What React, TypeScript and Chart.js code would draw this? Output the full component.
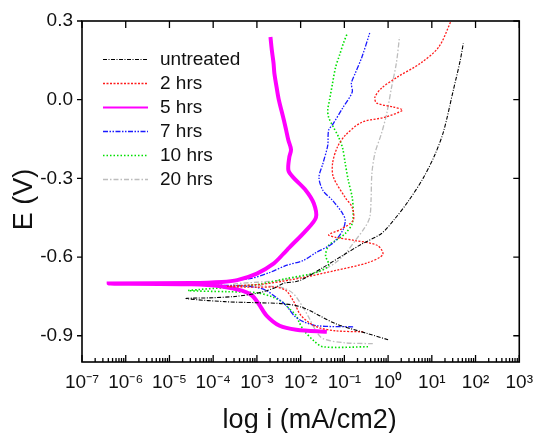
import React, { useEffect, useRef } from "react";
import { Chart, registerables } from "chart.js";

Chart.register(...registerables);

// ---------- data (x stored as log10 of i in mA/cm2, y = E in V) ----------
const seriesLabels = ["untreated", "2 hrs", "5 hrs", "7 hrs", "10 hrs", "20 hrs"];

const untreatedLogI = [0.0, -0.46, -1.2, -1.94, -2.39, -3.0, -3.74, -4.62, -4.0, -3.5, -3.0, -2.6, -2.39, -2.03, -1.49, -1.0, -0.6, -0.15, 0.15, 0.45, 0.8, 1.07, 1.27, 1.49, 1.65, 1.72];
const untreatedE = [-0.915, -0.892, -0.854, -0.793, -0.778, -0.774, -0.77, -0.758, -0.755, -0.75, -0.738, -0.718, -0.7, -0.69, -0.64, -0.59, -0.55, -0.51, -0.455, -0.39, -0.3, -0.21, -0.12, 0.035, 0.15, 0.215];

const hrs2LogI = [-0.57, -1.2, -1.65, -1.99, -2.17, -2.33, -2.55, -3.0, -3.67, -3.0, -2.71, -1.94, -1.2, -0.46, -0.12, -0.24, -0.75, -1.2, -1.36, -1.09, -0.8, -0.82, -0.98, -1.25, -1.27, -1.16, -0.98, -0.6, -0.08, 0.33, 0.15, -0.26, -0.3, -0.15, 0.21, 0.75, 1.16, 1.43];
const hrs2E = [-0.885, -0.881, -0.865, -0.823, -0.766, -0.728, -0.715, -0.715, -0.712, -0.705, -0.7, -0.678, -0.651, -0.621, -0.59, -0.556, -0.537, -0.525, -0.515, -0.495, -0.46, -0.411, -0.373, -0.296, -0.243, -0.181, -0.136, -0.086, -0.067, -0.04, -0.029, -0.013, 0.01, 0.044, 0.086, 0.14, 0.201, 0.296];

const hrs5LogI = [-1.4, -2.1, -2.48, -2.78, -2.96, -3.11, -3.34, -3.8, -4.5, -6.39, -4.5, -3.8, -3.45, -3.0, -2.62, -2.39, -2.26, -1.88, -1.65, -1.7, -1.88, -2.17, -2.28, -2.26, -2.22, -2.28, -2.33, -2.38, -2.44, -2.5, -2.55, -2.6, -2.62, -2.66, -2.69];
const hrs5E = [-0.885, -0.877, -0.862, -0.823, -0.778, -0.747, -0.728, -0.712, -0.704, -0.701, -0.699, -0.695, -0.688, -0.663, -0.625, -0.587, -0.564, -0.499, -0.449, -0.395, -0.346, -0.296, -0.269, -0.22, -0.19, -0.155, -0.117, -0.08, -0.04, 0.0, 0.048, 0.1, 0.14, 0.19, 0.239];

const hrs7LogI = [-0.8, -1.61, -1.94, -2.15, -2.33, -2.55, -2.78, -3.0, -3.45, -4.42, -4.35, -3.16, -2.71, -2.33, -1.94, -1.65, -1.27, -1.04, -0.98, -1.04, -1.27, -1.49, -1.58, -1.49, -1.38, -1.36, -1.25, -1.04, -0.82, -0.84, -0.75, -0.6, -0.42];
const hrs7E = [-0.866, -0.862, -0.846, -0.823, -0.785, -0.755, -0.728, -0.716, -0.709, -0.705, -0.701, -0.682, -0.659, -0.632, -0.613, -0.583, -0.548, -0.499, -0.46, -0.434, -0.384, -0.346, -0.296, -0.243, -0.174, -0.117, -0.09, -0.032, 0.029, 0.063, 0.101, 0.162, 0.254];

const hrs10LogI = [-0.46, -1.49, -1.7, -1.92, -2.03, -2.1, -2.26, -2.39, -2.66, -3.0, -3.67, -4.57, -4.35, -3.0, -2.33, -1.65, -1.36, -1.43, -1.36, -1.2, -0.98, -0.82, -0.8, -0.82, -0.91, -0.98, -1.04, -1.13, -1.25, -1.36, -1.38, -1.34, -1.27, -1.2, -1.11, -1.02, -0.93];
const hrs10E = [-0.942, -0.942, -0.919, -0.881, -0.85, -0.823, -0.797, -0.774, -0.751, -0.736, -0.732, -0.728, -0.724, -0.705, -0.682, -0.659, -0.632, -0.594, -0.556, -0.537, -0.51, -0.472, -0.422, -0.373, -0.308, -0.243, -0.185, -0.143, -0.105, -0.067, -0.04, -0.002, 0.063, 0.124, 0.17, 0.216, 0.254];

const hrs20LogI = [-0.35, -0.98, -1.49, -1.65, -1.81, -1.94, -2.17, -2.44, -3.0, -3.56, -3.45, -2.55, -1.88, -1.43, -1.2, -0.98, -0.75, -0.53, -0.42, -0.39, -0.37, -0.3, -0.15, -0.03, 0.08, 0.19, 0.26];
const hrs20E = [-0.93, -0.927, -0.911, -0.881, -0.831, -0.793, -0.739, -0.716, -0.709, -0.705, -0.701, -0.69, -0.671, -0.644, -0.621, -0.587, -0.537, -0.487, -0.449, -0.384, -0.281, -0.204, -0.128, -0.052, 0.048, 0.14, 0.239];

const xTickValues = [1e-7, 1e-6, 1e-5, 1e-4, 1e-3, 1e-2, 1e-1, 1e0, 1e1, 1e2, 1e3];
const xTickLabels = ["10\u207B\u2077", "10\u207B\u2076", "10\u207B\u2075", "10\u207B\u2074", "10\u207B\u00B3", "10\u207B\u00B2", "10\u207B\u00B9", "10\u2070", "10\u00B9", "10\u00B2", "10\u00B3"];
const yTickValues = [-0.9, -0.6, -0.3, 0.0, 0.3];
const yTickLabels = ["-0.9", "-0.6", "-0.3", "0.0", "0.3"];

const xTitle = "log i (mA/cm2)";
const yTitle = "E (V)";

// ---------- styles ----------
const FONT = "'Liberation Sans', Arial, sans-serif";
const seriesStyles = [
  { color: "#000000", width: 1.1, dash: [4, 1.5, 1, 1.5] },
  { color: "#ff1a1a", width: 1.3, dash: [2, 1.5] },
  { color: "#ff00ff", width: 4, dash: [] },
  { color: "#1a1aff", width: 1.3, dash: [5, 1.5, 1.5, 1.5, 1.5, 1.5] },
  { color: "#00e000", width: 1.6, dash: [1.5, 2] },
  { color: "#bdbdbd", width: 1.3, dash: [5, 2, 1.5, 2] },
];

const seriesData: [number[], number[]][] = [
  [untreatedLogI, untreatedE],
  [hrs2LogI, hrs2E],
  [hrs5LogI, hrs5E],
  [hrs7LogI, hrs7E],
  [hrs10LogI, hrs10E],
  [hrs20LogI, hrs20E],
];

const toPoints = (lg: number[], e: number[]) => lg.map((v, i) => ({ x: Math.pow(10, v), y: e[i] }));

const frameAndLegend = {
  id: "frameAndLegend",
  afterDraw(chart: any) {
    const { ctx, chartArea: a, scales } = chart;
    const xs = scales.x;
    const ys = scales.y;
    ctx.save();
    ctx.strokeStyle = "#000";
    ctx.lineWidth = 1.6;
    ctx.setLineDash([]);
    ctx.strokeRect(a.left, a.top, a.right - a.left, a.bottom - a.top);
    ctx.lineWidth = 1.3;
    ctx.beginPath();
    xTickValues.forEach((v, idx) => {
      const px = xs.getPixelForValue(v);
      ctx.moveTo(px, a.bottom);
      ctx.lineTo(px, a.bottom - 7);
      ctx.moveTo(px, a.top);
      ctx.lineTo(px, a.top + 7);
      if (idx < xTickValues.length - 1) {
        for (let m = 2; m <= 9; m++) {
          const mp = xs.getPixelForValue(v * m);
          ctx.moveTo(mp, a.bottom);
          ctx.lineTo(mp, a.bottom - 4);
        }
      }
    });
    yTickValues.forEach((v) => {
      const py = ys.getPixelForValue(v);
      ctx.moveTo(a.left, py);
      ctx.lineTo(a.left - 5, py);
      ctx.moveTo(a.right, py);
      ctx.lineTo(a.right - 6, py);
    });
    ctx.stroke();

    // axis titles
    ctx.fillStyle = "#111";
    ctx.textBaseline = "alphabetic";
    ctx.textAlign = "center";
    ctx.font = `27px ${FONT}`;
    ctx.fillText(xTitle, (a.left + a.right) / 2 + 9, 428);
    ctx.save();
    ctx.translate(32, (a.top + a.bottom) / 2 + 8);
    ctx.rotate(-Math.PI / 2);
    ctx.fillText(yTitle, 0, 0);
    ctx.restore();

    // legend inside plot area
    const lx0 = a.left + 21;
    const lx1 = a.left + 66;
    const tx = a.left + 78;
    ctx.font = `19px ${FONT}`;
    ctx.textBaseline = "middle";
    ctx.textAlign = "left";
    chart.data.datasets.forEach((ds: any, i: number) => {
      const y = a.top + 38.5 + i * 24;
      ctx.beginPath();
      ctx.strokeStyle = ds.borderColor;
      ctx.lineWidth = Math.min(ds.borderWidth, 2.2);
      ctx.setLineDash(ds.borderDash || []);
      ctx.moveTo(lx0, y);
      ctx.lineTo(lx1, y);
      ctx.stroke();
      ctx.setLineDash([]);
      ctx.fillStyle = "#111";
      ctx.fillText(ds.label, tx, y);
    });
    ctx.restore();
  },
};

export default function App() {
  const ref = useRef<HTMLCanvasElement | null>(null);
  useEffect(() => {
    if (!ref.current) return;
    const chart = new Chart(ref.current, {
      type: "scatter",
      data: {
        datasets: seriesData.map(([lg, e], i) => ({
          label: seriesLabels[i],
          data: toPoints(lg, e),
          showLine: true,
          pointRadius: 0,
          borderColor: seriesStyles[i].color,
          backgroundColor: seriesStyles[i].color,
          borderWidth: seriesStyles[i].width,
          borderDash: seriesStyles[i].dash,
          tension: 0.3,
          fill: false,
        })),
      },
      options: {
        animation: false,
        responsive: false,
        devicePixelRatio: 1,
        layout: { padding: { top: 21, right: 15, left: 0, bottom: 0 } },
        plugins: {
          legend: { display: false },
          tooltip: { enabled: false },
        },
        scales: {
          x: {
            type: "logarithmic",
            min: 1e-7,
            max: 1e3,
            grid: { display: false, drawTicks: false },
            border: { display: false },
            afterBuildTicks: (s: any) => {
              s.ticks = xTickValues.map((v) => ({ value: v }));
            },
            afterFit: (s: any) => {
              s.height = 71;
            },
            ticks: {
              autoSkip: false,
              maxRotation: 0,
              minRotation: 0,
              padding: 9,
              color: "#111",
              font: { family: FONT, size: 19 },
              callback: (v: any) => {
                const idx = xTickValues.findIndex((t) => Math.abs(Math.log10(t) - Math.log10(Number(v))) < 1e-6);
                return idx >= 0 ? xTickLabels[idx] : "";
              },
            },
            title: { display: false, text: xTitle },
          },
          y: {
            type: "linear",
            min: -1.0,
            max: 0.3,
            grid: { display: false, drawTicks: false },
            border: { display: false },
            afterBuildTicks: (s: any) => {
              s.ticks = yTickValues.map((v) => ({ value: v }));
            },
            afterFit: (s: any) => {
              s.width = 82;
            },
            ticks: {
              padding: 9,
              color: "#111",
              font: { family: FONT, size: 19 },
              callback: (v: any) => {
                const idx = yTickValues.findIndex((t) => Math.abs(t - Number(v)) < 1e-6);
                return idx >= 0 ? yTickLabels[idx] : "";
              },
            },
            title: { display: false, text: yTitle },
          },
        },
      },
      plugins: [frameAndLegend],
    } as any);
    return () => chart.destroy();
  }, []);
  return (
    <div style={{ position: "fixed", left: 0, top: 0, width: 542, height: 433, background: "#fff" }}>
      <canvas ref={ref} width={542} height={433} />
    </div>
  );
}
